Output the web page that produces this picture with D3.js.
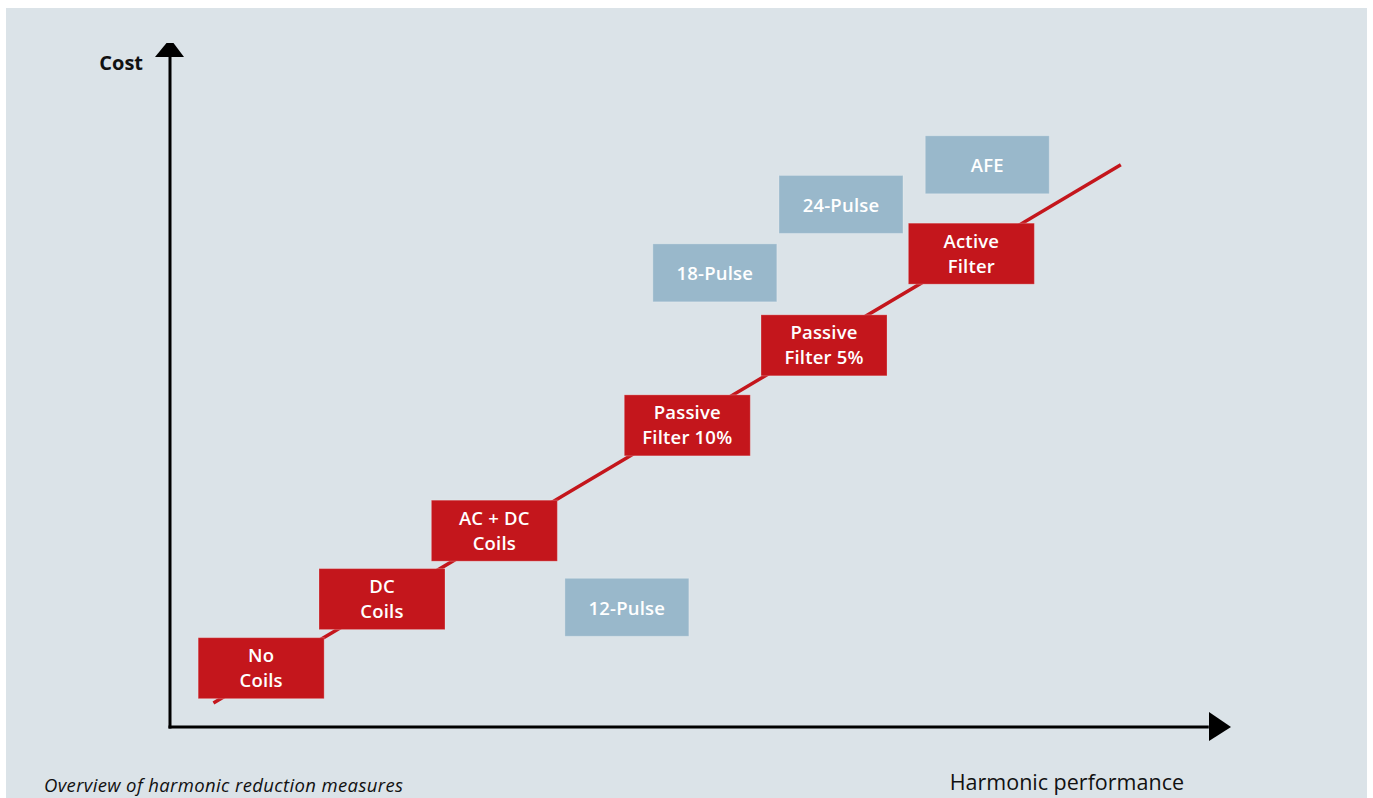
<!DOCTYPE html>
<html><head><meta charset="utf-8">
<script src="https://cdn.jsdelivr.net/npm/d3@7"></script>
<style>
html,body{margin:0;padding:0;background:#fff;}
svg{display:block;}
</style></head>
<body>
<svg id="chart" width="1373" height="798"></svg>
<script>
// Data (abstract units: harmonic performance 0-10, cost 0-10)
const redLabels = [["No","Coils"],["DC","Coils"],["AC + DC","Coils"],["Passive","Filter 10%"],["Passive","Filter 5%"],["Active","Filter"]];
const redPerf = [0.86, 2.0, 3.06, 4.88, 6.17, 7.56];
const redCost = [0.86, 1.87, 2.87, 4.41, 5.58, 6.92];
const blueLabels = [["12-Pulse"],["18-Pulse"],["24-Pulse"],["AFE"]];
const bluePerf = [4.31, 5.14, 6.33, 7.71];
const blueCost = [1.75, 6.64, 7.64, 8.22];
const trendPerf = [0.41, 8.97];
const trendCost = [0.35, 8.22];
const xTitle = "Harmonic performance";
const yTitle = "Cost";
const caption = "Overview of harmonic reduction measures";

const svg = d3.select("#chart");
svg.append("rect").attr("x",6).attr("y",8).attr("width",1361).attr("height",790).attr("fill","#dbe3e8");

const x = d3.scaleLinear().domain([0,10]).range([170,1230]);
const y = d3.scaleLinear().domain([0,10]).range([727,43]);

// axes
svg.append("line").attr("x1",x(0)).attr("x2",x(0)).attr("y1",y(0)+1.5).attr("y2",y(9.8))
  .attr("stroke","#000").attr("stroke-width",3);
svg.append("line").attr("x1",x(0)-1.5).attr("x2",x(9.8)).attr("y1",y(0)).attr("y2",y(0))
  .attr("stroke","#000").attr("stroke-width",3);
// y arrow head (truncated)
svg.append("path").attr("d",`M${x(0)-15},${y(10)+14} L${x(0)-3.5},${y(10)} L${x(0)+3.5},${y(10)} L${x(0)+14},${y(10)+14} Z`).attr("fill","#000");
// x arrow head
svg.append("path").attr("d",`M${x(10)-21},${y(0)-15} L${x(10)+1},${y(0)} L${x(10)-21},${y(0)+14} Z`).attr("fill","#000");

// trend line
svg.append("line").attr("x1",x(trendPerf[0])).attr("y1",y(trendCost[0]))
  .attr("x2",x(trendPerf[1])).attr("y2",y(trendCost[1]))
  .attr("stroke","#c4161c").attr("stroke-width",3.5);

const font = "'Open Sans', 'Noto Sans', sans-serif";

function boxes(labels, px, cy, w, h, fill){
  const g = svg.append("g").selectAll("g").data(labels).join("g")
    .attr("transform",(d,i)=>`translate(${x(px[i])},${y(cy[i])})`);
  g.append("rect").attr("x",-w/2).attr("y",-h/2).attr("width",w).attr("height",h)
    .attr("fill",fill).attr("stroke","rgba(255,255,255,0.25)").attr("stroke-width",1);
  g.each(function(d){
    const t = d3.select(this);
    const offs = d.length===1 ? [7.5] : [-6,19];
    d.forEach((line,j)=>{
      t.append("text").attr("x",0).attr("y",offs[j]).attr("text-anchor","middle")
        .attr("fill","#fff").attr("font-family",font).attr("font-weight",600)
        .attr("font-size",18.5).attr("letter-spacing",0.2).text(line);
    });
  });
}
boxes(blueLabels, bluePerf, blueCost, 124, 58, "#99b8cb");
boxes(redLabels, redPerf, redCost, 126, 61, "#c4161c");

svg.append("text").attr("x",143).attr("y",70).attr("text-anchor","end")
  .attr("font-family",font).attr("font-weight",700).attr("font-size",20).attr("fill","#111").text(yTitle);
svg.append("text").attr("x",1184).attr("y",790).attr("text-anchor","end")
  .attr("font-family",font).attr("font-size",21.5).attr("fill","#111").text(xTitle);
svg.append("text").attr("x",44).attr("y",792)
  .attr("font-family",font).attr("font-style","italic").attr("font-size",18.5)
  .attr("textLength",359).attr("lengthAdjust","spacing").attr("fill","#111").text(caption);
</script>
</body></html>
